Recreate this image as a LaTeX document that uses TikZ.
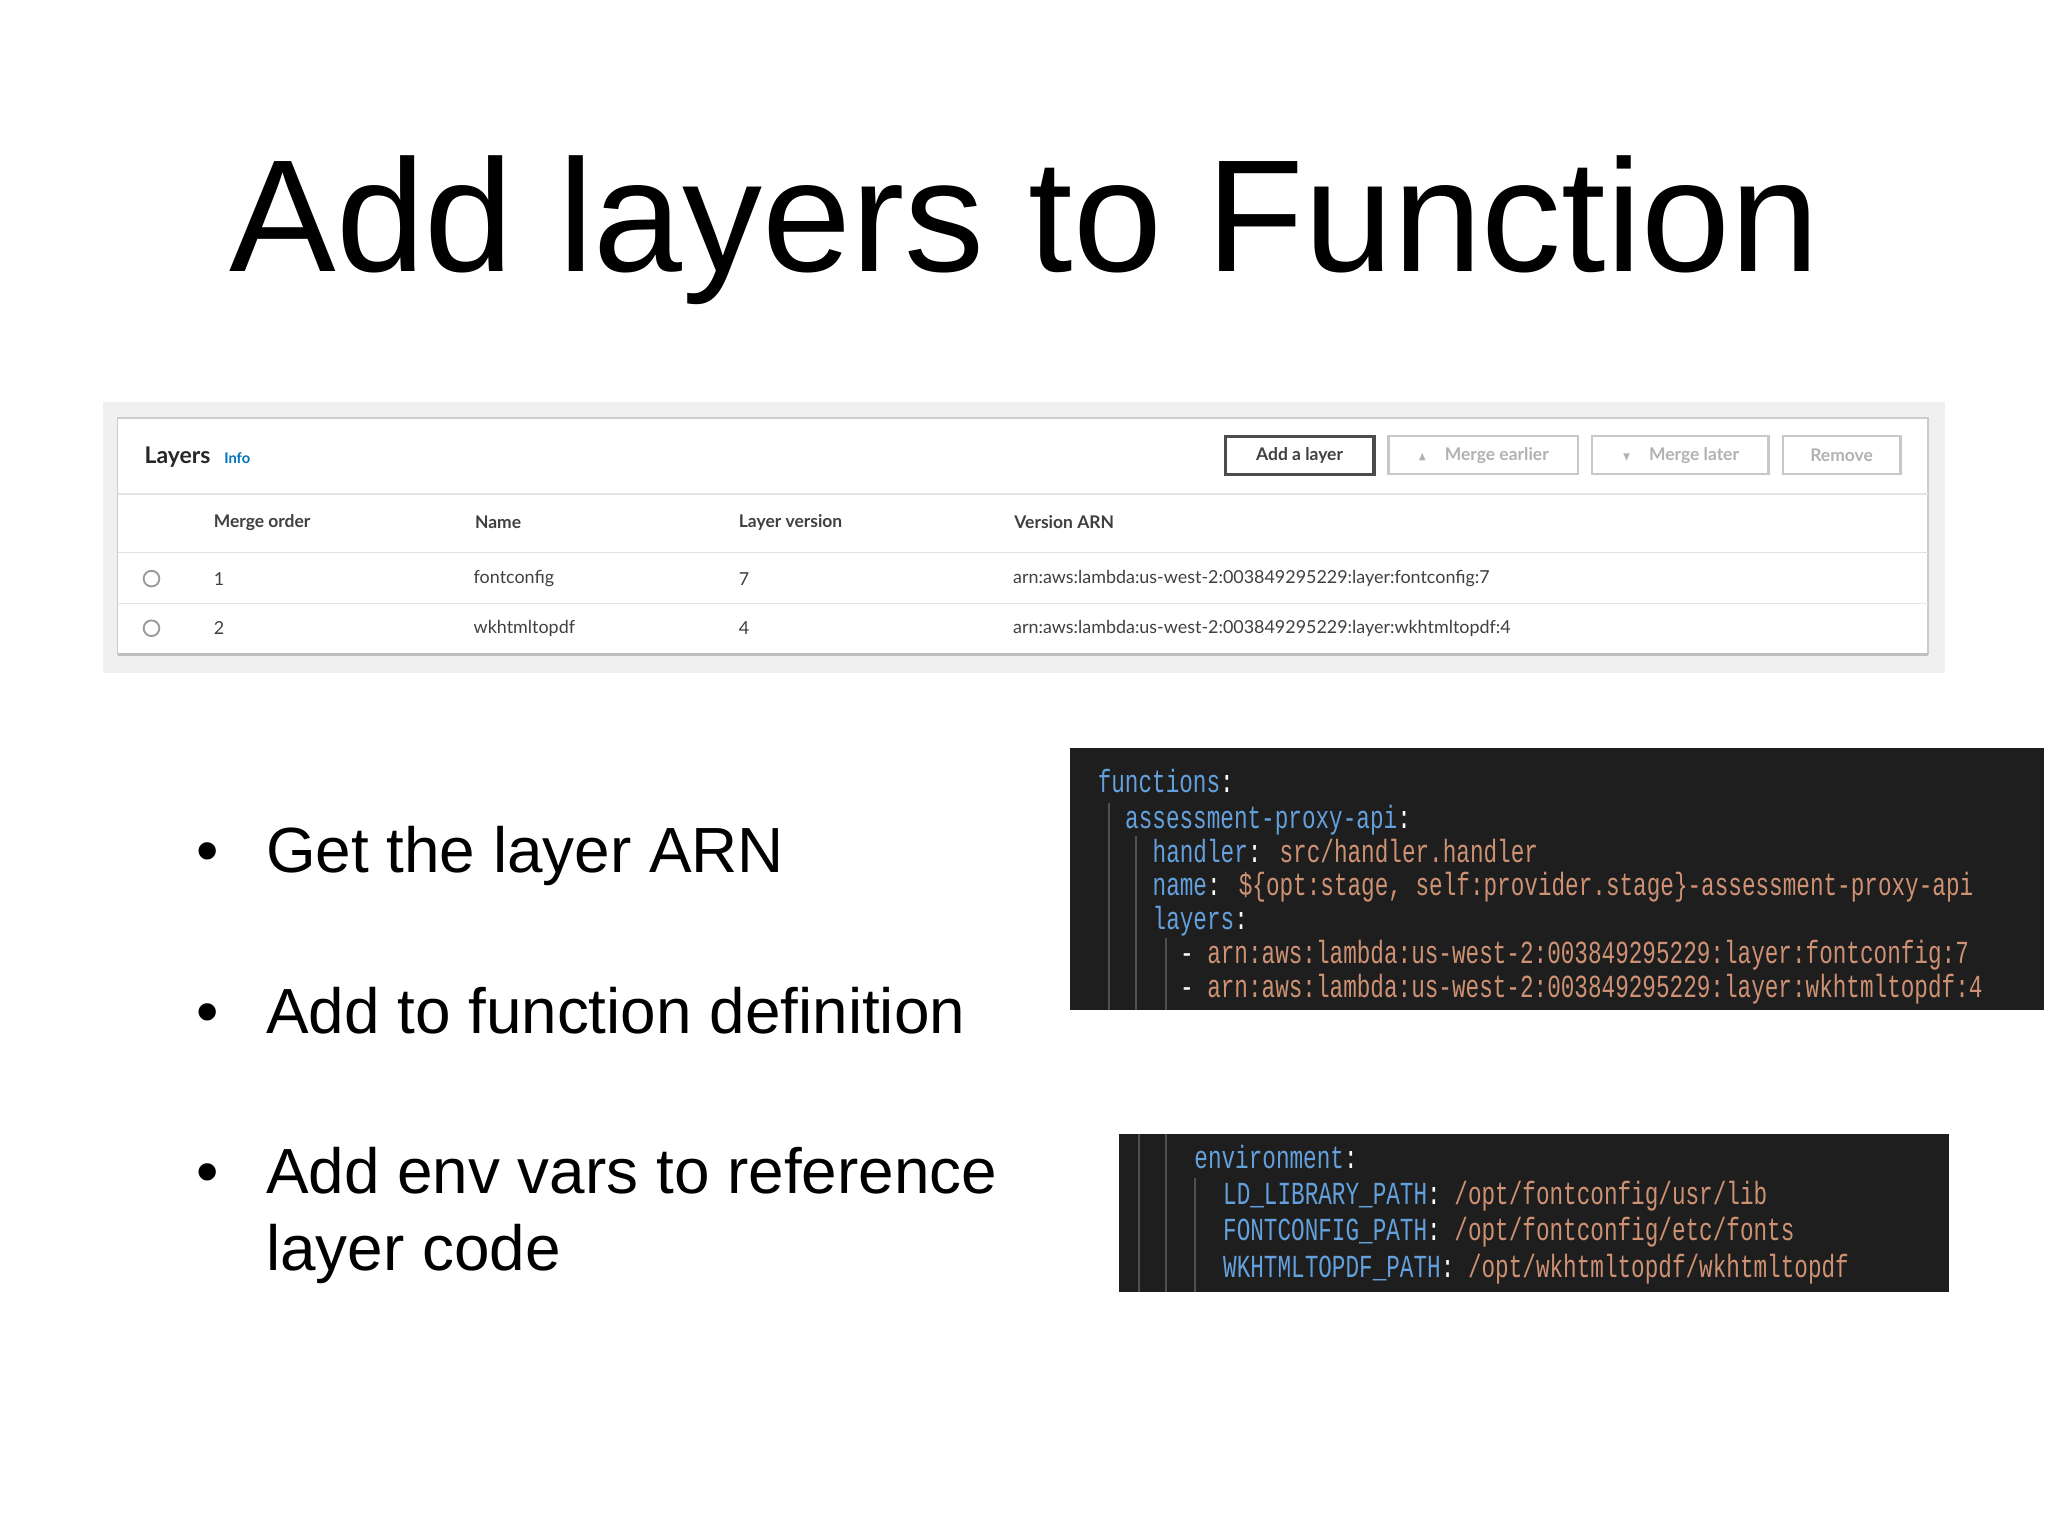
\documentclass[tikz,border=0pt]{standalone}
\usepackage{amssymb}
\usepackage{fontspec}
\setmainfont{Liberation Sans}
\newfontfamily\uifont{Lato}
\newfontfamily\codefont{Liberation Mono}
\definecolor{codebg}{RGB}{30,30,30}
\definecolor{kblue}{RGB}{100,160,220}
\definecolor{vorange}{RGB}{206,145,115}
\definecolor{guide}{RGB}{80,80,80}
\definecolor{btngray}{RGB}{200,200,200}
\definecolor{infoblue}{RGB}{0,115,187}
\begin{document}
\begin{tikzpicture}[x=0.01cm,y=-0.01cm,
  title/.style={anchor=base west,inner sep=0,font=\fontsize{34.8}{40}\selectfont},
  bullet/.style={anchor=base west,inner sep=0,font=\fontsize{13.9}{16}\selectfont},
  code/.style={anchor=base west,inner sep=0,xscale=0.705,transform shape,font=\codefont\fontsize{7}{8}\selectfont,text=white},
  ui/.style={anchor=west,inner sep=0,font=\uifont\fontsize{3.9}{4.5}\selectfont,text=black!75},
  uih/.style={ui,font=\uifont\bfseries\fontsize{3.8}{4.5}\selectfont},
  btn/.style={draw=btngray,line width=0.5pt,fill=white},
  guideline/.style={draw=guide,line width=0.4pt}]
\useasboundingbox[fill=white] (0,0) rectangle (1568,1176);
\node[title] (t) at (175,208) {Add layers to Function};

% table panel
\fill[black!6] (79,308) rectangle (1489,515);
\draw[black!20,fill=white] (90,320) rectangle (1476,501);
\draw[black!25,line width=0.8pt] (90,501) -- (1476,501);
\draw[black!10] (90,378) -- (1476,378);
\draw[black!12] (90,423) -- (1476,423);
\draw[black!10] (90,462) -- (1476,462);
\node[uih,font=\uifont\bfseries\fontsize{5}{6}\selectfont,text=black!85] (lay) at (110,350) {Layers};
\node[ui,font=\uifont\bfseries\fontsize{3.2}{4}\selectfont,text=infoblue] (info) at (171,351) {Info};
\draw[black!70,line width=0.7pt,fill=white] (938,334) rectangle (1052,363);
\node[uih,anchor=center,text=black!75] (b1) at (995,348.5) {Add a layer};
\draw[btn] (1063,334) rectangle (1208,363);
\node[uih,anchor=center,text=black!30] (b2) at (1135.5,348.5) {{\fontsize{2.5}{3}\selectfont$\blacktriangle$}\quad Merge earlier};
\draw[btn] (1219,334) rectangle (1354,363);
\node[uih,anchor=center,text=black!30] (b3) at (1286.5,348.5) {{\fontsize{2.5}{3}\selectfont$\blacktriangledown$}\quad Merge later};
\draw[btn] (1365,334) rectangle (1455,363);
\node[uih,anchor=center,text=black!30] (b4) at (1410,348.5) {Remove};
\node[uih] (h1) at (163,400) {Merge order};
\node[uih] (h2) at (363,400) {Name};
\node[uih] (h3) at (565,400) {Layer version};
\node[uih] (h4) at (776,400) {Version ARN};
\draw[black!40,line width=0.4pt] (116,443) circle (6);
\draw[black!40,line width=0.4pt] (116,481) circle (6);
\node[ui] (r1a) at (163,443) {1};
\node[ui] (r1b) at (362,443) {fontconfig};
\node[ui] (r1c) at (565,443) {7};
\node[ui] (r1d) at (775,443) {arn:aws:lambda:us-west-2:003849295229:layer:fontconfig:7};
\node[ui] (r2a) at (163,481) {2};
\node[ui] (r2b) at (362,481) {wkhtmltopdf};
\node[ui] (r2c) at (565,481) {4};
\node[ui] (r2d) at (775,481) {arn:aws:lambda:us-west-2:003849295229:layer:wkhtmltopdf:4};

% bullets
\foreach \y/\t in {668/Get the layer ARN,791/Add to function definition,914/Add env vars to reference}{
  \node[bullet] at (150,\y) {\textbullet};
  \node[bullet] at (203,\y) {\t};}
\node[bullet] (b4l) at (203,973) {layer code};

% code box 1
\fill[codebg] (819,573) rectangle (1565,773);
\draw[guideline] (849,615) -- (849,773);
\draw[guideline] (870,640) -- (870,773);
\draw[guideline] (893,718) -- (893,773);
\node[code] (c1) at (840,607) {\textcolor{kblue}{functions}:};
\node[code] (c2) at (861,634) {\textcolor{kblue}{assessment-proxy-api}:};
\node[code] (c3) at (882,660) {\textcolor{kblue}{handler}: \textcolor{vorange}{src/handler.handler}};
\node[code] (c4) at (882,686) {\textcolor{kblue}{name}: \textcolor{vorange}{\$\{opt:stage, self:provider.stage\}-assessment-proxy-api}};
\node[code] (c5) at (882,712) {\textcolor{kblue}{layers}:};
\node[code] (c6) at (903,738) {- \textcolor{vorange}{arn:aws:lambda:us-west-2:003849295229:layer:fontconfig:7}};
\node[code] (c7) at (903,764) {- \textcolor{vorange}{arn:aws:lambda:us-west-2:003849295229:layer:wkhtmltopdf:4}};

% code box 2
\fill[codebg] (857,868) rectangle (1492,989);
\draw[guideline] (872,868) -- (872,989);
\draw[guideline] (893,868) -- (893,989);
\draw[guideline] (915,902) -- (915,989);
\node[code] (e1) at (914,895) {\textcolor{kblue}{environment}:};
\node[code] (e2) at (936,922) {\textcolor{kblue}{LD\_LIBRARY\_PATH}: \textcolor{vorange}{/opt/fontconfig/usr/lib}};
\node[code] (e3) at (936,950) {\textcolor{kblue}{FONTCONFIG\_PATH}: \textcolor{vorange}{/opt/fontconfig/etc/fonts}};
\node[code] (e4) at (936,978) {\textcolor{kblue}{WKHTMLTOPDF\_PATH}: \textcolor{vorange}{/opt/wkhtmltopdf/wkhtmltopdf}};
\end{tikzpicture}
\end{document}
